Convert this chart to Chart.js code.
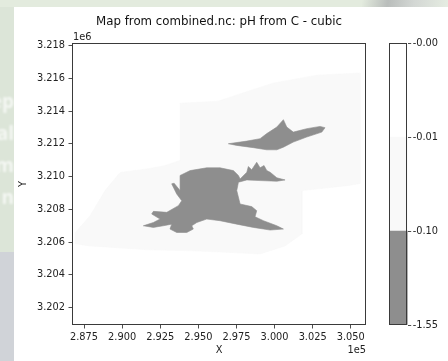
<!DOCTYPE html>
<html>
<head>
<meta charset="utf-8">
<title>pH from C - cubic</title>
<script src="https://cdn.jsdelivr.net/npm/chart.js@4.4.1/dist/chart.umd.min.js"></script>
<style>
  html, body { margin: 0; padding: 0; }
  body {
    width: 448px; height: 361px; position: relative; overflow: hidden;
    background: #e3ebde; font-family: 'DejaVu Sans', sans-serif;
  }
  #tab {
    position: absolute; right: 0; top: 0; width: 86px; height: 7px;
    background: linear-gradient(100deg, #e3ebde 0%, #b9bdbb 30%, #d3d7d4 60%, #e6ede2 100%);
  }
  #side { position: absolute; left: 0; top: 7px; width: 14px; height: 245px; background: #dce5d8; overflow: hidden; }
  #sideLow { position: absolute; left: 0; top: 252px; width: 14px; height: 109px; background: #d0d3d8; }
  #sideText {
    position: absolute; right: 0; top: 78px; text-align: right; white-space: pre;
    font: bold 19px 'Open Sans', sans-serif; line-height: 32px;
    color: rgba(255, 255, 255, 0.7); filter: blur(0.8px);
  }
  #panel { position: absolute; left: 14px; top: 7px; right: 0; bottom: 0; background: #fff; }
  #map { position: absolute; left: 0; top: 0; }
  #bar { position: absolute; left: 380px; top: 0; }
</style>
</head>
<body>
<div id="tab"></div>
<div id="side"><div id="sideText">ep
al
m
n

n</div></div>
<div id="sideLow"></div>
<div id="panel"></div>
<canvas id="map" width="448" height="361"></canvas>
<canvas id="bar" width="68" height="361"></canvas>
<script>
// axis ticks (metres)
const xTicks = [287500, 290000, 292500, 295000, 297500, 300000, 302500, 305000];
const yTicks = [3202000, 3204000, 3206000, 3208000, 3210000, 3212000, 3214000, 3216000, 3218000];

// contour levels of the colorbar, bottom to top
const levelLabels = ['-1.55', '-0.10', '-0.01', '-0.00'];
const levelColors = ['#8e8e8e', '#f9f9f9', '#ffffff'];

// -0.10 .. -0.01 band
const bandShallow = [
  [286910, 3206570], [287890, 3207610], [288880, 3209150], [289860, 3210250],
  [291830, 3210500], [292820, 3210680], [293800, 3210990], [293800, 3214480],
  [296290, 3214610], [298070, 3215160], [299900, 3215710], [302790, 3216200],
  [305610, 3216330], [305610, 3209580], [304760, 3209450], [301810, 3209150],
  [301810, 3206510], [300690, 3205770], [299050, 3205280], [296420, 3205400],
  [294650, 3205470], [291830, 3205530], [289860, 3205650], [287890, 3205770],
  [286910, 3205900], [286910, 3206570]
];

// below -0.10, northern patch
const patchNorth = [
  [296970, 3212010], [298180, 3212170], [299050, 3212320], [299490, 3212630],
  [300150, 3213030], [300580, 3213480], [300800, 3213030], [301230, 3212720],
  [302110, 3212930], [302990, 3213070], [303310, 3212990], [303100, 3212720],
  [302110, 3212420], [301230, 3212110], [300580, 3211800], [300150, 3211640],
  [299490, 3211640], [298610, 3211770], [297520, 3211910], [296970, 3212010]
];

// below -0.10, southern patch
const patchSouth = [
  [293800, 3210070], [294460, 3210370], [295550, 3210540], [296420, 3210540],
  [297300, 3210370], [297630, 3210070], [297740, 3209860], [298180, 3210270],
  [298280, 3210620], [298500, 3210420], [298830, 3210880], [299050, 3210540],
  [299310, 3210680], [299490, 3210370], [299710, 3210270], [300150, 3209930],
  [300690, 3209800], [300150, 3209720], [299050, 3209760], [298180, 3209800],
  [297630, 3209660], [297520, 3209150], [297740, 3208330], [298500, 3208170],
  [298830, 3207920], [298720, 3207550], [299270, 3207310], [300150, 3207000],
  [300580, 3206800], [299710, 3206740], [298610, 3206900], [297520, 3207100],
  [296420, 3207310], [295550, 3207410], [294900, 3207200], [294570, 3207000],
  [294670, 3206800], [294240, 3206590], [293580, 3206590], [293140, 3206800],
  [293250, 3207100], [292700, 3207000], [292050, 3206900], [291390, 3207000],
  [292050, 3207200], [292490, 3207410], [291940, 3207720], [292050, 3207880],
  [292930, 3207820], [293690, 3208230], [293910, 3208530], [293580, 3208940],
  [293250, 3209560], [293410, 3209600], [293800, 3209150], [293800, 3210070]
];

const FONT = 'DejaVu Sans';
const INK = '#222';
const EDGE = '#3a3a3a';

const asPoints = pts => pts.map(([x, y]) => ({ x, y }));

const region = (pts, color, order) => ({
  data: asPoints(pts),
  backgroundColor: color,
  borderColor: color,
  borderWidth: 0.6,
  fill: 'shape',
  pointRadius: 0,
  tension: 0,
  order: order
});

// box round the plotting area, like a matplotlib frame
const frame = {
  id: 'frame',
  afterDraw(chart) {
    const { ctx, chartArea: a } = chart;
    ctx.save();
    ctx.strokeStyle = EDGE;
    ctx.lineWidth = 1;
    ctx.strokeRect(Math.round(a.left) + 0.5, Math.round(a.top) + 0.5,
      Math.round(a.right - a.left) - 1, Math.round(a.bottom - a.top) - 1);
    ctx.restore();
  }
};

// scientific offset labels at the axis ends
const offsets = {
  id: 'offsets',
  afterDraw(chart) {
    const { ctx, chartArea: a } = chart;
    ctx.save();
    ctx.fillStyle = INK;
    ctx.font = '9.8px "' + FONT + '"';
    ctx.textBaseline = 'middle';
    ctx.textAlign = 'left';
    ctx.fillText('1e6', a.left + 1, a.top - 6);
    ctx.textAlign = 'right';
    ctx.fillText('1e5', a.right, 350.5);
    ctx.restore();
  }
};

const tickGrid = {
  drawOnChartArea: false,
  drawTicks: true,
  tickLength: 3.5,
  tickColor: EDGE,
  tickWidth: 0.9
};

new Chart(document.getElementById('map'), {
  type: 'line',
  data: {
    datasets: [
      region(patchNorth, levelColors[0], 1),
      region(patchSouth, levelColors[0], 1),
      region(bandShallow, levelColors[1], 2)
    ]
  },
  options: {
    responsive: false,
    animation: false,
    events: [],
    layout: { padding: { left: 0, right: 82, top: 0, bottom: 0 } },
    plugins: {
      legend: { display: false },
      tooltip: { enabled: false },
      title: {
        display: true,
        fullSize: false,
        text: 'Map from combined.nc: pH from C - cubic',
        color: '#111',
        font: { family: FONT, size: 11.8, weight: 'normal' },
        padding: { top: 14.4, bottom: 14.4 }
      }
    },
    scales: {
      x: {
        type: 'linear',
        min: 286710,
        max: 306000,
        afterBuildTicks: s => { s.ticks = xTicks.map(v => ({ value: v })); },
        afterFit: s => { s.height = 36; },
        ticks: {
          callback: v => (v / 1e5).toFixed(3),
          color: INK, font: { family: FONT, size: 9.8 },
          padding: 3, maxRotation: 0, autoSkip: false
        },
        grid: tickGrid,
        border: { display: false },
        title: {
          display: true, text: 'X', color: INK,
          font: { family: FONT, size: 9.8 },
          padding: { top: 0, bottom: 5 }
        }
      },
      y: {
        type: 'linear',
        min: 3200940,
        max: 3218165,
        afterBuildTicks: s => { s.ticks = yTicks.map(v => ({ value: v })); },
        afterFit: s => { s.width = 72; },
        ticks: {
          callback: v => (v / 1e6).toFixed(3),
          color: INK, font: { family: FONT, size: 9.8 },
          padding: 3.5, autoSkip: false
        },
        grid: tickGrid,
        border: { display: false },
        title: {
          display: true, text: 'Y', color: INK,
          font: { family: FONT, size: 9.8 },
          padding: { top: 18, bottom: 0 }
        }
      }
    }
  },
  plugins: [frame, offsets]
});

// colorbar: one uniform block per contour interval
new Chart(document.getElementById('bar'), {
  type: 'bar',
  data: {
    labels: [''],
    datasets: levelColors.map((c, i) => ({
      data: [[i, i + 1]],
      backgroundColor: c,
      borderWidth: 0,
      grouped: false,
      barPercentage: 1,
      categoryPercentage: 1
    }))
  },
  options: {
    responsive: false,
    animation: false,
    events: [],
    layout: { padding: { left: 9.3, right: 0, top: 43, bottom: 36 } },
    plugins: { legend: { display: false }, tooltip: { enabled: false } },
    scales: {
      x: { display: false },
      y: {
        position: 'right',
        min: 0,
        max: levelColors.length,
        afterBuildTicks: s => { s.ticks = levelLabels.map((_, i) => ({ value: i })); },
        afterFit: s => { s.width = 40.3; },
        ticks: {
          callback: v => levelLabels[v],
          color: INK, font: { family: FONT, size: 9.8 },
          padding: 1.5, autoSkip: false
        },
        grid: tickGrid,
        border: { display: false }
      }
    }
  },
  plugins: [frame]
});
</script>
</body>
</html>
